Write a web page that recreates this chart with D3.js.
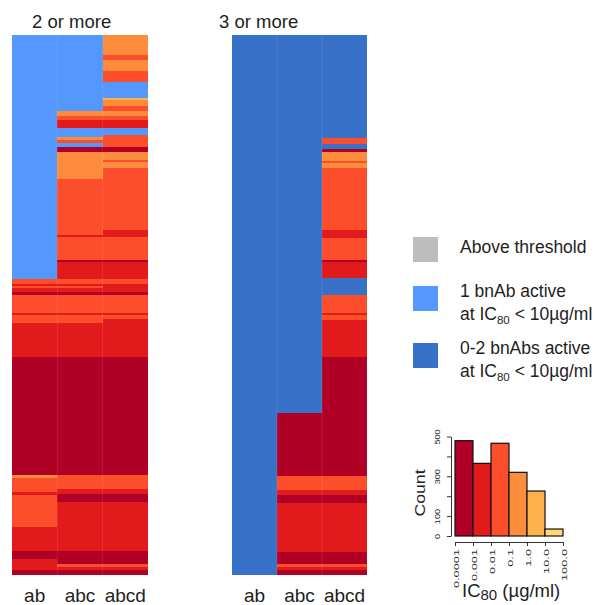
<!DOCTYPE html>
<html>
<head>
<meta charset="utf-8">
<script src="https://cdn.jsdelivr.net/npm/d3@7"></script>
<style>
  body { margin: 0; background: #fff; }
  text { font-family: "Liberation Sans", Arial, sans-serif; fill: #1e1e1e; }
</style>
</head>
<body>
<script>
    // ---- data ----
    var columns = ["ab", "abc", "abcd"];
    var panelTitles = ["2 or more", "3 or more"];

    // runs of rows from top to bottom: [code, rows]
    // codes 0..5 = IC80 bin, "L" = 1 bnAb active, "D" = 0-2 bnAbs active
    var leftAb = [["L",244],[2,5],[1,2],[2,2],[1,4],[0,3],[2,18],[1,2],[2,8],[1,34],[0,118],
        [3,3],[2,14],[1,3],[2,32],[1,24],[0,8],[1,11],[0,5]];
    var leftAbc = [["L",76],[3,5],[2,4],[1,8],["L",9],[3,3],[2,3],["L",4],[0,5],[3,27],[2,56],[1,2],
        [2,23],[0,2],[1,17],[2,5],[1,2],[2,2],[1,4],[0,3],[2,18],[1,2],[2,8],[1,34],[0,118],
        [2,14],[1,5],[0,8],[1,49],[0,13],[2,3],[1,3],[0,5]];
    var leftAbcd = [[3,20],[2,5],[3,11],[2,11],["L",16],[4,2],[3,6],[2,5],[3,5],[2,4],[1,8],["L",7],
        [2,12],[0,5],[3,8],[2,2],[3,6],[2,62],[1,7],[2,23],[0,2],[1,17],[2,5],[1,8],[0,3],[2,18],
        [1,2],[2,4],[1,38],[0,118],[2,14],[1,5],[0,8],[1,49],[0,13],[2,3],[1,3],[0,5]];
    var rightAb = [["D",540]];
    var rightAbc = [["D",378],[0,63],[2,14],[1,5],[0,8],[1,49],[0,12],[2,3],[1,3],[0,5]];
    var rightAbcd = [["D",103],[2,6],["D",5],[0,3],[3,9],[2,2],[3,5],[2,62],[1,8],[2,22],[0,2],
        [1,16],["D",17],[2,18],[1,2],[2,5],[1,37],[0,119],[2,14],[1,5],[0,8],[1,49],[0,12],
        [2,3],[1,3],[0,5]];

    var binLabels = ["0.0001", "0.001", "0.01", "0.1", "1.0", "10.0", "100.0"];
    var binCounts = [479, 365, 466, 320, 226, 35];
    var countTicks = [0, 100, 200, 300, 400, 500];
    var countLabels = [0, 100, 300, 500];

    var legendCodes = ["G", "L", "D"];
    var legendFirst = ["Above threshold", "1 bnAb active", "0-2 bnAbs active"];
    var legendSecond = [false, true, true];

    var colors = {0: "#B10026", 1: "#E31A1C", 2: "#FC4E2A", 3: "#FD8D3C", 4: "#FEB24C", 5: "#FED976",
        L: "#5497FD", D: "#3771C8", G: "#BDBDBD"};

    // ---- layout ----
    var width = 599, height = 605;
    var svg = d3.select("body").append("svg")
        .attr("width", width)
        .attr("height", height);

    var panels = [
        { title: panelTitles[0], titleX: 32, x0: 12, x1: 148, cols: [leftAb, leftAbc, leftAbcd] },
        { title: panelTitles[1], titleX: 219, x0: 232, x1: 367, cols: [rightAb, rightAbc, rightAbcd] }
    ];

    var y = d3.scaleLinear().domain([0, 540]).range([35, 575]);

    panels.forEach(function (p) {
        var x = d3.scaleBand().domain(columns).range([p.x0, p.x1]);
        var g = svg.append("g");

        p.cols.forEach(function (runs, ci) {
            var start = 0;
            var cells = runs.map(function (r) {
                var c = { code: r[0], y0: start, y1: start + r[1] };
                start += r[1];
                return c;
            });
            g.selectAll(".c" + ci)
                .data(cells)
                .enter().append("rect")
                .attr("x", x(columns[ci]))
                .attr("width", x.bandwidth())
                .attr("y", function (d) { return y(d.y0); })
                .attr("height", function (d) { return y(d.y1) - y(d.y0); })
                .attr("shape-rendering", "crispEdges")
                .style("fill", function (d) { return colors[d.code]; });
        });

        // faint separators between columns
        g.selectAll(".sep")
            .data(columns.slice(1))
            .enter().append("line")
            .attr("x1", function (d) { return x(d); })
            .attr("x2", function (d) { return x(d); })
            .attr("y1", y(0)).attr("y2", y(540))
            .style("stroke", "#fff").style("stroke-opacity", 0.1);

        g.append("text")
            .attr("x", p.titleX).attr("y", 28)
            .style("font-size", "18.5px")
            .text(p.title);

        g.selectAll(".lab")
            .data(columns)
            .enter().append("text")
            .attr("x", function (d) { return x(d) + x.bandwidth() / 2; })
            .attr("y", 602)
            .style("text-anchor", "middle")
            .style("font-size", "19px")
            .text(function (d) { return d; });
    });

    // ---- legend ----
    var legendTop = [237, 286, 343];
    var lg = svg.selectAll(".legend")
        .data(legendCodes)
        .enter().append("g")
        .attr("transform", function (d, i) { return "translate(413," + legendTop[i] + ")"; });

    lg.append("rect")
        .attr("width", 25).attr("height", 25)
        .style("fill", function (d) { return colors[d]; });

    lg.append("text")
        .attr("x", 47)
        .attr("y", function (d, i) { return legendSecond[i] ? 11 : 16; })
        .style("font-size", "17.5px")
        .text(function (d, i) { return legendFirst[i]; });

    var second = lg.filter(function (d, i) { return legendSecond[i]; })
        .append("text")
        .attr("x", 47).attr("y", 34)
        .style("font-size", "17.5px");
    second.append("tspan").text("at IC");
    second.append("tspan").attr("dy", 4).style("font-size", "11.5px").text("80");
    second.append("tspan").attr("dy", -4).text(" < 10µg/ml");

    // ---- histogram ----
    var hx = d3.scaleLinear().domain([0, 6]).range([455, 563]);
    var hy = d3.scaleLinear().domain([0, 500]).range([536, 436.5]);
    var hist = svg.append("g");

    hist.selectAll(".bar")
        .data(binCounts)
        .enter().append("rect")
        .attr("x", function (d, i) { return hx(i); })
        .attr("width", hx(1) - hx(0))
        .attr("y", function (d) { return hy(d); })
        .attr("height", function (d) { return hy(0) - hy(d); })
        .style("fill", function (d, i) { return colors[i]; })
        .style("stroke", "#111")
        .style("stroke-width", 1.2);

    var yAxis = hist.append("g")
        .attr("transform", "translate(451,0)")
        .call(d3.axisLeft(hy).tickValues(countTicks).tickSize(4).tickSizeOuter(0)
            .tickFormat(function (d) { return countLabels.indexOf(d) >= 0 ? d : ""; }));
    yAxis.selectAll("text")
        .attr("x", null).attr("dy", null)
        .attr("transform", "translate(-11.5,0) rotate(-90) scale(1.4,1)")
        .style("text-anchor", "middle")
        .style("font-size", "6.5px")
        .style("font-family", "'Liberation Sans', Arial, sans-serif");

    var xAxis = hist.append("g")
        .attr("transform", "translate(0,542)")
        .call(d3.axisBottom(hx).tickValues(d3.range(7)).tickSize(4).tickSizeOuter(0)
            .tickFormat(function (i) { return binLabels[i]; }));
    xAxis.selectAll("text")
        .attr("y", null).attr("dy", null)
        .attr("transform", "translate(3,7) rotate(-90) scale(1.6,1)")
        .style("text-anchor", "end")
        .style("font-size", "8px")
        .style("font-family", "'Liberation Sans', Arial, sans-serif");

    hist.selectAll(".domain, .tick line").style("stroke", "#333");

    hist.append("text")
        .attr("transform", "translate(425,493) rotate(-90) scale(1.14,1)")
        .style("text-anchor", "middle")
        .style("font-size", "15.5px")
        .text("Count");

    var xl = hist.append("text")
        .attr("x", 462).attr("y", 597)
        .style("font-size", "18.5px");
    xl.append("tspan").text("IC");
    xl.append("tspan").attr("dy", 3).style("font-size", "15px").text("80");
    xl.append("tspan").attr("dy", -3).text(" (µg/ml)");
</script>
</body>
</html>
